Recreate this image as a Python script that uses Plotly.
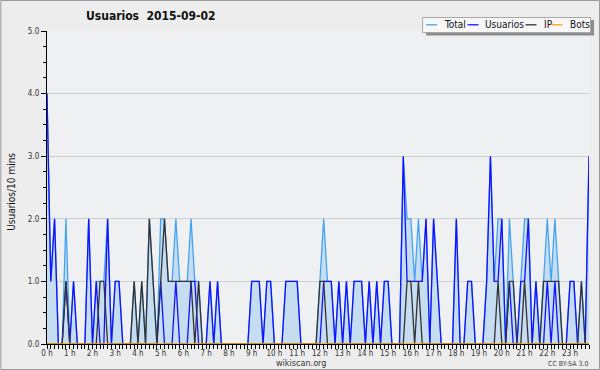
import plotly.graph_objects as go

# ---- data (10-minute bins, 0h .. 23h50) ----
usuarios = [
    4, 1, 2, 0, 0, 1,   0, 1, 0, 0, 0, 2,   0, 1, 0, 0, 2, 0,   1, 1, 0, 0, 0, 0,
    0, 0, 0, 0, 0, 0,   1, 0, 0, 0, 1, 0,   0, 0, 1, 1, 0, 0,   0, 1, 0, 1, 0, 0,
    0, 0, 0, 0, 0, 0,   1, 1, 1, 0, 1, 1,   0, 0, 0, 1, 1, 1,   1, 0, 0, 0, 0, 0,
    0, 1, 1, 1, 0, 1,   0, 1, 0, 1, 1, 1,   0, 1, 0, 1, 0, 1,   1, 0, 0, 0, 3, 1,
    1, 1, 1, 1, 2, 0,   2, 1, 0, 0, 0, 0,   2, 0, 0, 1, 1, 0,   0, 0, 1, 3, 1, 1,
    2, 0, 1, 0, 0, 1,   1, 2, 0, 1, 0, 0,   1, 0, 1, 0, 0, 0,   1, 1, 0, 0, 0, 3,
]
ip = [
    0, 0, 0, 0, 0, 1,   0, 0, 0, 0, 0, 0,   0, 0, 1, 1, 0, 0,   0, 0, 0, 0, 0, 1,
    0, 1, 0, 2, 1, 0,   1, 2, 1, 1, 1, 1,   1, 1, 1, 0, 1, 0,   0, 0, 0, 0, 0, 0,
    0, 0, 0, 0, 0, 0,   0, 0, 0, 0, 0, 0,   0, 0, 0, 0, 0, 0,   0, 0, 0, 0, 0, 0,
    1, 1, 0, 0, 0, 0,   0, 0, 0, 0, 0, 0,   0, 0, 0, 0, 0, 0,   0, 0, 0, 0, 0, 1,
    1, 0, 1, 0, 0, 0,   0, 0, 0, 0, 0, 0,   0, 0, 0, 0, 0, 0,   0, 0, 0, 0, 0, 1,
    0, 0, 1, 1, 0, 0,   1, 0, 0, 0, 0, 1,   1, 1, 1, 1, 0, 0,   0, 0, 0, 1, 0, 0,
]
total = [
    4, 1, 2, 0, 0, 2,   0, 1, 0, 0, 0, 2,   0, 1, 1, 1, 2, 0,   1, 1, 0, 0, 0, 1,
    0, 1, 0, 2, 1, 0,   2, 2, 1, 1, 2, 1,   1, 1, 2, 1, 1, 0,   0, 1, 0, 1, 0, 0,
    0, 0, 0, 0, 0, 0,   1, 1, 1, 0, 1, 1,   0, 0, 0, 1, 1, 1,   1, 0, 0, 0, 0, 0,
    1, 2, 1, 1, 0, 1,   0, 1, 0, 1, 1, 1,   0, 1, 0, 1, 0, 1,   1, 0, 0, 0, 3, 2,
    2, 1, 2, 1, 2, 0,   2, 1, 0, 0, 0, 0,   2, 0, 0, 1, 1, 0,   0, 0, 1, 3, 1, 2,
    2, 0, 2, 1, 0, 1,   2, 2, 0, 1, 0, 1,   2, 1, 2, 1, 0, 0,   1, 1, 0, 1, 0, 3,
]
bots = [0] * 144
bins = list(range(144))
hour_ticks = list(range(0, 144, 6))
hour_labels = [f"{h} h" for h in range(24)]
y_ticks = [0, 1, 2, 3, 4, 5]

C_TOTAL = "#45a4f2"
C_USR = "#1212ff"
C_IP = "#333333"
C_BOTS = "#ffa500"
FONT = "DejaVu Sans Condensed, DejaVu Sans"

fig = go.Figure()
fig.add_trace(go.Scatter(x=bins, y=total, mode="lines", name="Total",
                         line=dict(color=C_TOTAL, width=1.3),
                         fill="tozeroy", fillcolor="#c6dcf0"))
fig.add_trace(go.Scatter(x=bins, y=usuarios, mode="lines", name="Usuarios",
                         line=dict(color=C_USR, width=1.3)))
fig.add_trace(go.Scatter(x=bins, y=ip, mode="lines", name="IP",
                         line=dict(color=C_IP, width=1.3)))
fig.add_trace(go.Scatter(x=bins, y=bots, mode="lines", name="Bots",
                         line=dict(color=C_BOTS, width=1.3)))

# layout geometry (pixels)
L, R, T, B = 46.7, 589.0, 31.0, 344.0
W, H = 600, 370
PW, PH = R - L, B - T


def px(x):
    return (x - L) / PW


def py(y):
    return (B - y) / PH


shapes = []
annotations = []
# outer border
shapes.append(dict(type="rect", xref="paper", yref="paper",
                   x0=px(0.5), x1=px(W - 0.5), y0=py(H - 0.5), y1=py(0.5),
                   line=dict(color="#9a9a9a", width=1), fillcolor="rgba(0,0,0,0)", layer="above"))
# legend shadow + box
shapes.append(dict(type="rect", xref="paper", yref="paper",
                   x0=px(426), x1=px(594), y0=py(35.5), y1=py(20),
                   line=dict(width=0), fillcolor="#8c8c8c", layer="above"))
shapes.append(dict(type="rect", xref="paper", yref="paper",
                   x0=px(422.5), x1=px(590.5), y0=py(32.5), y1=py(17.5),
                   line=dict(color="#a8a8a8", width=1), fillcolor="#f7f7f7", layer="above"))
legend_items = [("Total", C_TOTAL, 426, 442), ("Usuarios", C_USR, 467.5, 483),
                ("IP", C_IP, 525.5, 541.5), ("Bots", C_BOTS, 551.5, 567.5)]
for name, col, lx, tx in legend_items:
    shapes.append(dict(type="line", xref="paper", yref="paper",
                       x0=px(lx), x1=px(lx + 11), y0=py(24.8), y1=py(24.8),
                       line=dict(color=col, width=1.3), layer="above"))
    annotations.append(dict(text=name, xref="paper", yref="paper", x=px(tx), y=py(25),
                            xanchor="left", yanchor="middle", showarrow=False,
                            font=dict(family=FONT, size=10, color="#111")))

# title
annotations.append(dict(text="<b>Usuarios\u00a0 2015-09-02</b>", xref="paper", yref="paper",
                        x=px(151), y=py(16.5), xanchor="center", yanchor="middle",
                        showarrow=False, font=dict(family=FONT, size=12, color="#111")))
# y axis title
annotations.append(dict(text="Usuarios/10 mins", xref="paper", yref="paper",
                        x=px(10.5), y=py(192), xanchor="center", yanchor="middle",
                        textangle=-90, showarrow=False,
                        font=dict(family=FONT, size=10, color="#111")))
# footer
annotations.append(dict(text="wikiscan.org", xref="paper", yref="paper",
                        x=px(301), y=py(363), xanchor="center", yanchor="middle",
                        showarrow=False, font=dict(family=FONT, size=9, color="#333")))
annotations.append(dict(text="CC BY-SA 3.0", xref="paper", yref="paper",
                        x=px(590), y=py(364), xanchor="right", yanchor="middle",
                        showarrow=False, font=dict(family=FONT, size=7, color="#444")))

fig.update_layout(
    width=W, height=H,
    margin=dict(l=L, r=W - R, t=T, b=H - B, pad=0),
    paper_bgcolor="#ededed", plot_bgcolor="#eff0f2",
    showlegend=False,
    shapes=shapes, annotations=annotations,
    font=dict(family=FONT, size=8, color="#333"),
)
fig.update_xaxes(range=[0, 143], tickmode="array", tickvals=hour_ticks, ticktext=hour_labels,
                 ticks="outside", ticklen=4, tickwidth=1, tickcolor="#000",
                 ticklabelstandoff=-3,
                 showline=True, linecolor="#000", linewidth=1.2, showgrid=False, zeroline=False,
                 tickfont=dict(family=FONT, size=8, color="#333"),
                 minor=dict(tickmode="linear", tick0=0, dtick=1, ticks="outside",
                            ticklen=4, tickwidth=1, tickcolor="#000", showgrid=False))
fig.update_yaxes(range=[0, 5], tickmode="array", tickvals=y_ticks,
                 ticktext=[f"{v:.1f}" for v in y_ticks],
                 ticks="outside", ticklen=5, tickwidth=1, tickcolor="#000",
                 showline=True, linecolor="#000", linewidth=1.2,
                 showgrid=True, gridcolor="#cfcfcf", gridwidth=1, zeroline=False,
                 tickfont=dict(family=FONT, size=8, color="#333"),
                 minor=dict(tickmode="linear", tick0=0, dtick=0.25, ticks="outside",
                            ticklen=3, tickwidth=1, tickcolor="#000", showgrid=False))

fig.write_html("out.html")
